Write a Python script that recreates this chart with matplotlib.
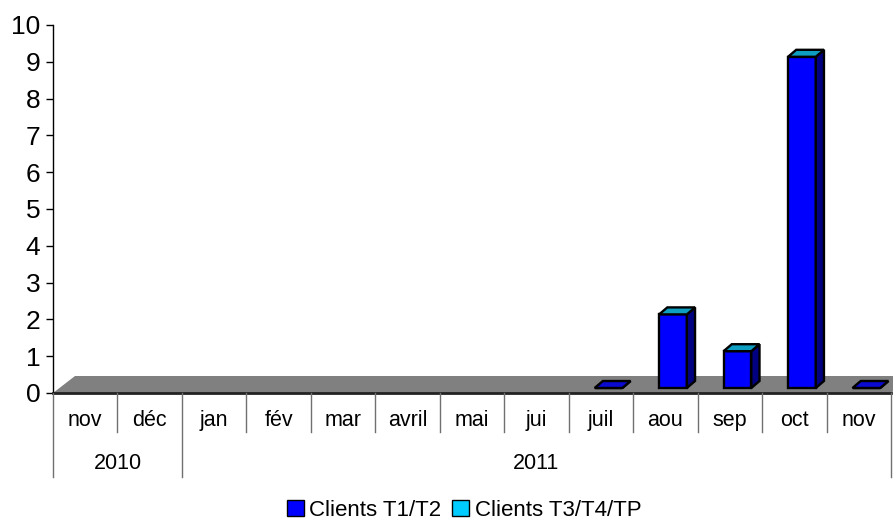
import matplotlib
matplotlib.use("Agg")
import matplotlib.pyplot as plt
import numpy as np
from matplotlib.patches import Patch

plt.rcParams['font.family'] = ['Liberation Sans', 'DejaVu Sans']

# donnees
mois = ['nov', 'déc', 'jan', 'fév', 'mar', 'avril', 'mai', 'jui', 'juil', 'aou', 'sep', 'oct', 'nov']
annees = ['2010', '2011']
nb_mois_annee = [2, 11]
t1_t2 = [np.nan, np.nan, np.nan, np.nan, np.nan, np.nan, np.nan, np.nan, 0, 2, 1, 9, 0]
t3_t4_tp = [np.nan, np.nan, np.nan, np.nan, np.nan, np.nan, np.nan, np.nan, np.nan, 0, 0, 0, np.nan]
series = ['Clients T1/T2', 'Clients T3/T4/TP']

# couleurs
bleu = '#0000FF'
bleu_cote = '#000080'
bleu_dessus = '#0A0AD0'
cyan = '#00CCFF'
cyan_dessus = '#0E9EC2'
gris_sol = '#808080'

W, H = 893, 521
fig = plt.figure(figsize=(W / 100, H / 100), dpi=100)

# axe principal : 0 a y=393 px, 10 a y=25 px
ax = fig.add_axes([53 / W, (H - 393) / H, 838 / W, 368 / H])
ax.set_xlim(-0.5, 12.5)
ax.set_ylim(0, 10)
ax.set_yticks(range(11))
ax.set_xticks([])
ax.tick_params(axis='y', labelsize=19, length=5, width=1, pad=4, direction='out')
for s in ['top', 'right', 'bottom']:
    ax.spines[s].set_visible(False)
ax.spines['left'].set_linewidth(1)
ax.patch.set_alpha(0)

# sol 3D
sol_dx, sol_dy = 0.341, 0.462
ax.fill([-0.5, 12.5, 12.5 + sol_dx, -0.5 + sol_dx], [0, 0, sol_dy, sol_dy],
        color=gris_sol, lw=0, clip_on=False, zorder=1)
ax.plot([-0.5, 12.5], [0, 0], color='#222222', lw=2, clip_on=False, zorder=2)

# barres 3D
decal = -0.097
larg = 0.43
pdx, pdy = 0.127, 0.19
base = 0.136
ep = 1.7
for i, v in enumerate(t1_t2):
    if np.isnan(v):
        continue
    x0 = i + decal
    x1 = x0 + larg
    top = base + v
    ax.bar(x0, v, width=larg, bottom=base, align='edge', color=bleu,
           edgecolor='black', linewidth=ep, zorder=3)
    ax.fill([x1, x1 + pdx, x1 + pdx, x1], [base, base + pdy, top + pdy, top],
            facecolor=bleu_cote, edgecolor='black', lw=ep, zorder=3)
    dessus = bleu_dessus if np.isnan(t3_t4_tp[i]) else cyan_dessus
    ax.fill([x0, x1, x1 + pdx, x0 + pdx], [top, top, top + pdy, top + pdy],
            facecolor=dessus, edgecolor='black', lw=ep, zorder=4)

# axe des categories (deux niveaux)
ax2 = fig.add_axes([53 / W, (H - 477) / H, 838 / W, 84 / H])
ax2.set_xlim(-0.5, 12.5)
ax2.set_ylim(84, 0)
ax2.axis('off')
limites = np.cumsum([0] + nb_mois_annee) - 0.5
for b in np.arange(-0.5, 13, 1):
    bas = 84 if b in limites else 39
    ax2.plot([b, b], [0, bas], color='#707070', lw=1, clip_on=False)
for i, m in enumerate(mois):
    ax2.text(i, 33, m, ha='center', va='baseline', fontsize=15.5)
for k, a in enumerate(annees):
    ax2.text((limites[k] + limites[k + 1]) / 2, 76, a, ha='center', va='baseline', fontsize=15.5)

# legende
poignees = [Patch(facecolor=bleu, edgecolor='black', lw=1),
            Patch(facecolor=cyan, edgecolor='black', lw=1)]
fig.legend(poignees, series, loc='center', bbox_to_anchor=(464 / W, (H - 510) / H),
           ncol=2, frameon=False, fontsize=16, handlelength=0.75, handleheight=0.75,
           handletextpad=0.25, columnspacing=0.5, borderpad=0)

fig.savefig('out.png', dpi=100)
